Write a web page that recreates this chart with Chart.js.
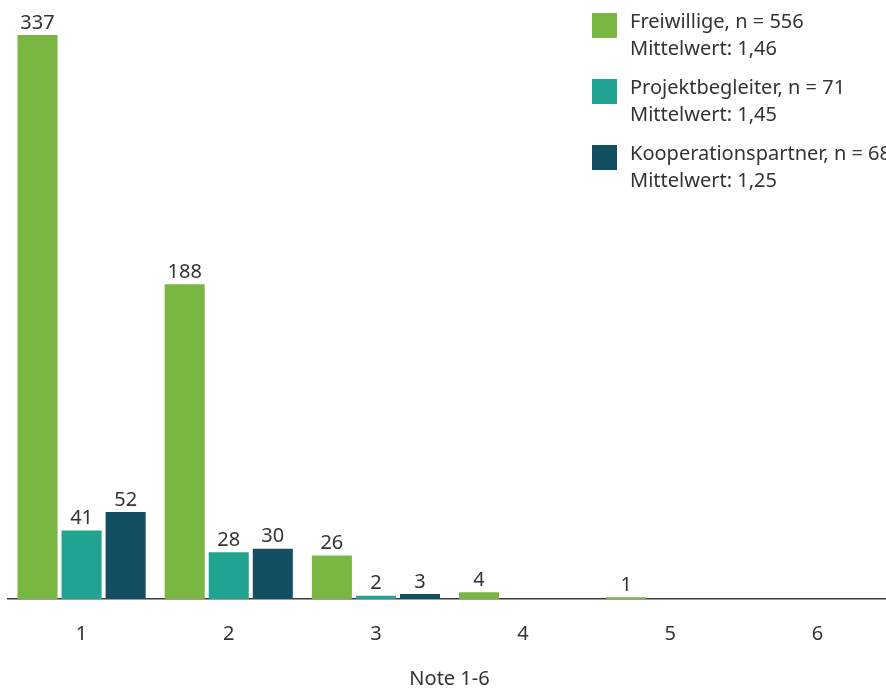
<!DOCTYPE html>
<html lang="de">
<head>
<meta charset="utf-8">
<title>Note 1-6</title>
<script src="https://cdn.jsdelivr.net/npm/chart.js@4/dist/chart.umd.min.js"></script>
<style>
  html, body { margin: 0; padding: 0; background: #fff; overflow: hidden; }
  #wrap { position: relative; width: 899px; height: 691px; }
</style>
</head>
<body>
<div id="wrap"><canvas id="chart"></canvas></div>
<script>
const grades = ['1', '2', '3', '4', '5', '6'];
const freiwillige = [337, 188, 26, 4, 1, 0];
const projektbegleiter = [41, 28, 2, 0, 0, 0];
const kooperationspartner = [52, 30, 3, 0, 0, 0];

const seriesNames = ['Freiwillige', 'Projektbegleiter', 'Kooperationspartner'];
const seriesN = [556, 71, 68];
const seriesMeans = ['1,46', '1,45', '1,25'];
const seriesColors = ['#79b642', '#20a391', '#134f62'];

const FONT = "'Noto Sans', sans-serif";
const TEXT = '#333333';

// value above each bar, zero counts get no label
const barValues = {
  id: 'barValues',
  afterDatasetsDraw(chart) {
    const { ctx } = chart;
    ctx.save();
    ctx.font = '20px ' + FONT;
    ctx.fillStyle = TEXT;
    ctx.textAlign = 'center';
    ctx.textBaseline = 'bottom';
    chart.data.datasets.forEach((ds, i) => {
      chart.getDatasetMeta(i).data.forEach((bar, j) => {
        const v = ds.data[j];
        if (!v) return;
        ctx.fillText(String(v), bar.x, bar.y - 2);
      });
    });
    ctx.restore();
  }
};

// legend block in the upper right corner
const sideLegend = {
  id: 'sideLegend',
  afterDraw(chart) {
    const { ctx } = chart;
    ctx.save();
    ctx.font = '20px ' + FONT;
    ctx.textBaseline = 'middle';
    ctx.textAlign = 'left';
    seriesNames.forEach((name, i) => {
      const top = 13 + i * 66;
      ctx.fillStyle = seriesColors[i];
      ctx.fillRect(592, top, 25, 25);
      ctx.fillStyle = TEXT;
      ctx.fillText(name + ', n = ' + seriesN[i], 630, top + 9);
      ctx.fillText('Mittelwert: ' + seriesMeans[i], 630, top + 36);
    });
    ctx.restore();
  }
};

new Chart(document.getElementById('chart'), {
  type: 'bar',
  data: {
    labels: grades,
    datasets: [
      { label: seriesNames[0], data: freiwillige, backgroundColor: seriesColors[0] },
      { label: seriesNames[1], data: projektbegleiter, backgroundColor: seriesColors[1] },
      { label: seriesNames[2], data: kooperationspartner, backgroundColor: seriesColors[2] }
    ]
  },
  options: {
    responsive: true,
    maintainAspectRatio: false,
    animation: false,
    categoryPercentage: 0.898,
    barPercentage: 0.909,
    layout: { padding: { top: 35, left: 8, right: 8, bottom: 0 } },
    plugins: {
      legend: { display: false },
      tooltip: { enabled: false }
    },
    scales: {
      x: {
        grid: { display: false, drawTicks: false },
        border: { display: true, color: '#3a3a3a', width: 1.5 },
        ticks: { color: TEXT, font: { family: FONT, size: 20 }, padding: 23 },
        title: {
          display: true,
          text: 'Note 1-6',
          color: TEXT,
          font: { family: FONT, size: 20, lineHeight: 1 },
          padding: { top: 0, bottom: 2 }
        }
      },
      y: {
        display: false,
        min: 0,
        max: 337
      }
    }
  },
  plugins: [barValues, sideLegend]
});
</script>
</body>
</html>
